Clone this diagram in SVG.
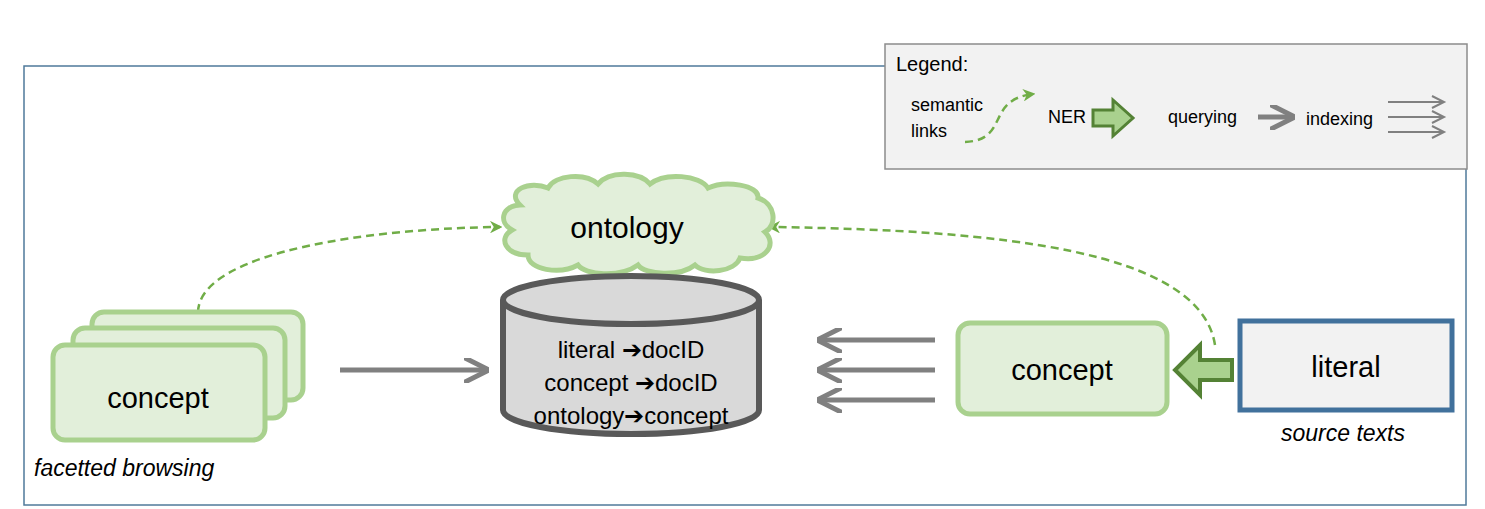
<svg xmlns="http://www.w3.org/2000/svg" width="1485" height="509" viewBox="0 0 1485 509">
<defs>
<style>
text{font-family:"Liberation Sans","Open Sans",sans-serif;fill:#000}
.card{fill:#e2efda;stroke:#a9d18e;stroke-width:5}
.sem{fill:none;stroke:#70ad47;stroke-width:2.5;stroke-dasharray:8 5}
.q{stroke:#808080;stroke-width:5;fill:none}
.ix{stroke:#808080;stroke-width:5;fill:none}
</style>
<marker id="ga" viewBox="0 0 10 10" refX="8" refY="5" markerWidth="5" markerHeight="5" orient="auto"><path d="M0,0 L10,5 L0,10 L3,5 Z" fill="#70ad47"/></marker>
<marker id="qa" viewBox="0 0 10 10" refX="8" refY="5" markerWidth="5" markerHeight="5" orient="auto"><path d="M0,0 L10,5 L0,10" fill="none" stroke="#808080" stroke-width="2"/></marker>
</defs>
<rect width="1485" height="509" fill="#fff"/>
<rect x="24" y="66" width="1442" height="439" fill="none" stroke="#4f7a9a" stroke-width="1.5"/>
<g id="legend">
<rect x="885" y="44" width="582" height="125" fill="#f2f2f2" stroke="#8c8c8c" stroke-width="1.5"/>
<text x="896" y="71" font-size="20">Legend:</text>
<text x="911" y="111" font-size="18">semantic</text>
<text x="911" y="137" font-size="18">links</text>
<path d="M965,142 C1010,140 985,100 1033,94" class="sem" stroke-width="1.5" stroke-dasharray="5 4" marker-end="url(#ga)"/>
<text x="1048" y="123" font-size="18">NER</text>
<path d="M1093,110 L1113,110 L1113,100 L1133,118 L1113,136 L1113,126 L1093,126 Z" fill="#a9d18e" stroke="#548235" stroke-width="3"/>
<text x="1168" y="123" font-size="18">querying</text>
<path d="M1258,117 L1290,117" class="q" marker-end="url(#qa)"/>
<text x="1306" y="125" font-size="18">indexing</text>
<path d="M1388,102 L1442,102 M1388,117 L1442,117 M1388,132 L1442,132" stroke="#808080" stroke-width="2" fill="none"/>
<path d="M1432,96 L1444,102 L1432,108 M1432,111 L1444,117 L1432,123 M1432,126 L1444,132 L1432,138" stroke="#808080" stroke-width="2" fill="none"/>
</g>
<g id="connectors">
<path d="M198,312 C200,250 380,228 500,227" class="sem" marker-end="url(#ga)"/>
<path d="M1215,345 C1200,250 1000,230 770,227" class="sem" marker-end="url(#ga)"/>
<path d="M340,370 L484,370" class="q" marker-end="url(#qa)"/>
<path d="M935,340 L822,340" class="ix" marker-end="url(#qa)"/>
<path d="M935,370 L822,370" class="ix" marker-end="url(#qa)"/>
<path d="M935,400 L822,400" class="ix" marker-end="url(#qa)"/>
<path d="M1232,360 L1200,360 L1200,345 L1175,370 L1200,395 L1200,380 L1232,380 Z" fill="#a9d18e" stroke="#548235" stroke-width="4"/>
</g>
<g id="ontology">
<path d="M520,205 C505,190 530,180 548,188 C555,175 585,172 598,184 C610,170 640,172 650,184 C665,172 700,175 708,188 C725,180 760,185 758,198 C775,203 778,225 765,232 C778,245 765,262 740,258 C735,272 705,275 695,265 C680,277 645,275 638,265 C620,278 585,275 578,265 C560,275 528,270 528,255 C505,255 498,238 512,230 C498,222 502,206 520,205 Z" fill="#e2efda" stroke="#a9d18e" stroke-width="5"/>
<text x="627" y="238" font-size="30" text-anchor="middle">ontology</text>
</g>
<g id="db">
<path d="M503,300 L503,410 A128,24 0 0 0 759,410 L759,300" fill="#d9d9d9" stroke="#595959" stroke-width="6"/>
<ellipse cx="631" cy="300" rx="128" ry="24" fill="#d9d9d9" stroke="#595959" stroke-width="6"/>
<text x="631" y="358" font-size="24" text-anchor="middle">literal ➔docID</text>
<text x="631" y="391" font-size="24" text-anchor="middle">concept ➔docID</text>
<text x="631" y="424" font-size="24" text-anchor="middle">ontology➔concept</text>
</g>
<g id="concepts-left">
<rect x="92" y="312" width="211" height="88" rx="12" class="card"/>
<rect x="73" y="328" width="212" height="90" rx="12" class="card"/>
<rect x="53" y="345" width="212" height="95" rx="12" class="card"/>
<text x="158" y="408" font-size="29" text-anchor="middle">concept</text>
<text x="34" y="476" font-size="23" font-style="italic">facetted browsing</text>
</g>
<g id="concept-right">
<rect x="958" y="323" width="209" height="91" rx="12" class="card"/>
<text x="1062" y="380" font-size="29" text-anchor="middle">concept</text>
</g>
<g id="literal">
<rect x="1240" y="321" width="212" height="89" fill="#f2f2f2" stroke="#41719c" stroke-width="5"/>
<text x="1346" y="377" font-size="29" text-anchor="middle">literal</text>
<text x="1343" y="441" font-size="23" font-style="italic" text-anchor="middle">source texts</text>
</g>
</svg>
